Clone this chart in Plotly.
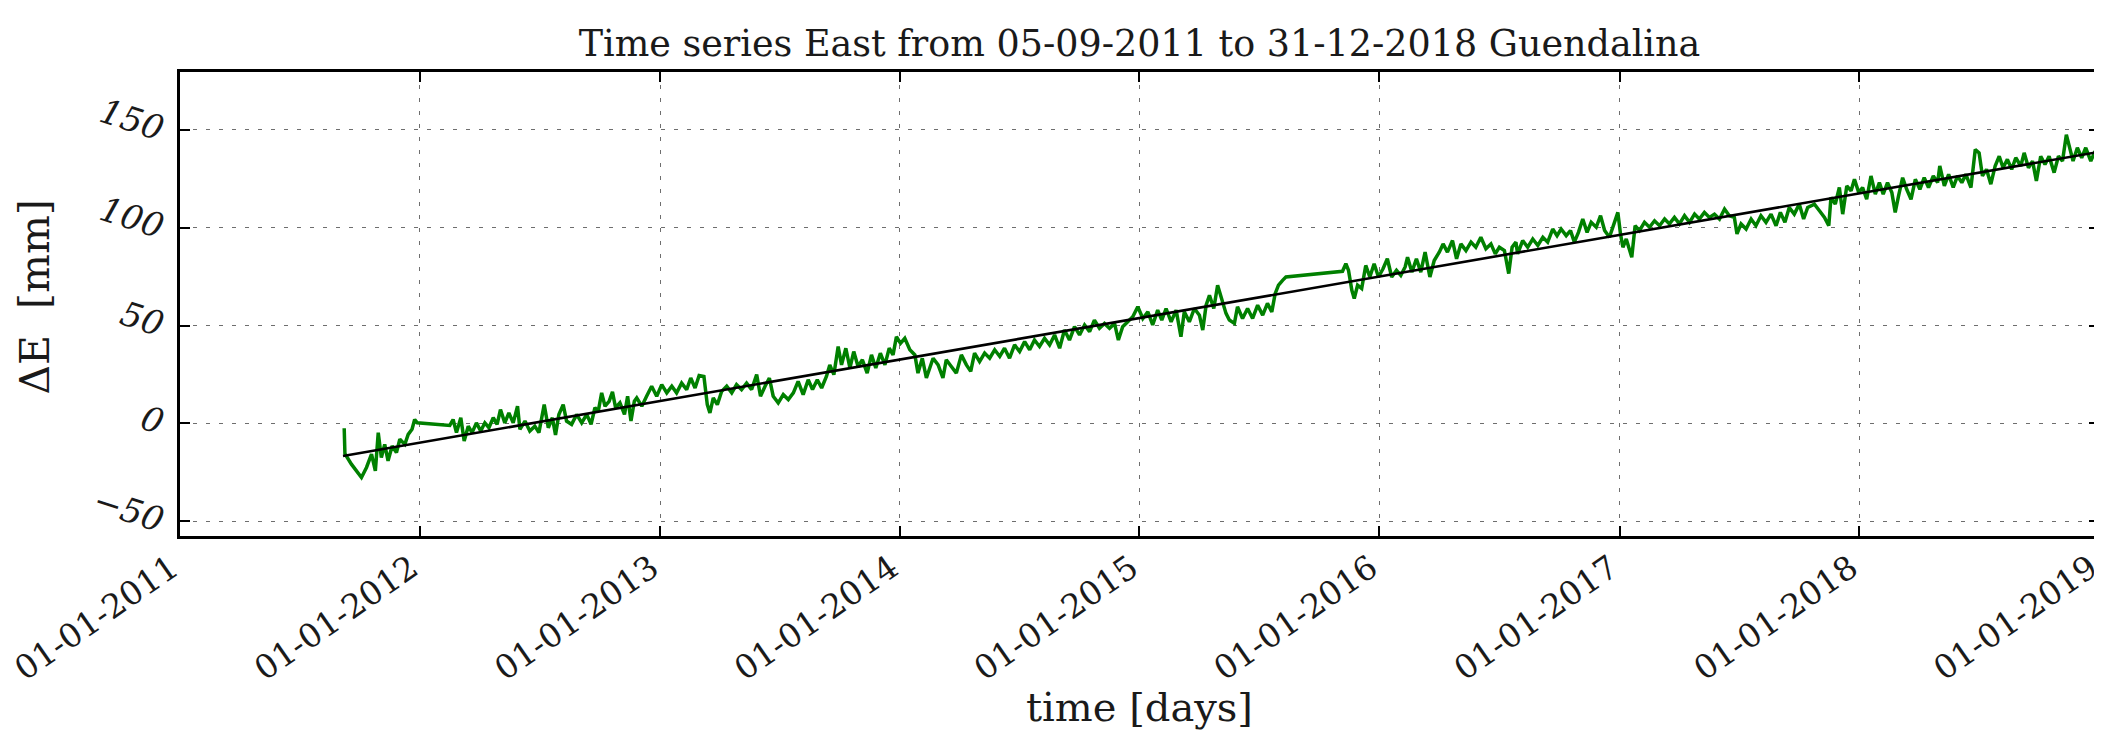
import datetime as dt
import plotly.graph_objects as go

# ---- data ----
# time in decimal years, East displacement in mm
t_year = [
    2011.685, 2011.688, 2011.715, 2011.757, 2011.778, 2011.799, 2011.815, 2011.827, 2011.840, 2011.854,
    2011.868, 2011.885, 2011.903, 2011.917, 2011.938, 2011.952, 2011.968, 2011.979, 2011.990, 2012.125,
    2012.139, 2012.153, 2012.171, 2012.185, 2012.202, 2012.218, 2012.236, 2012.254, 2012.271, 2012.288,
    2012.306, 2012.322, 2012.336, 2012.354, 2012.371, 2012.389, 2012.407, 2012.417, 2012.438, 2012.458,
    2012.479, 2012.496, 2012.518, 2012.535, 2012.552, 2012.565, 2012.579, 2012.597, 2012.611, 2012.632,
    2012.653, 2012.674, 2012.695, 2012.713, 2012.729, 2012.743, 2012.757, 2012.771, 2012.788, 2012.802,
    2012.815, 2012.833, 2012.852, 2012.865, 2012.879, 2012.893,
    2012.903, 2012.924, 2012.944, 2012.965, 2012.986, 2013.007, 2013.028, 2013.049, 2013.069, 2013.090,
    2013.111, 2013.128, 2013.146, 2013.163, 2013.183, 2013.197, 2013.208, 2013.222, 2013.239, 2013.257,
    2013.278, 2013.299, 2013.319, 2013.340, 2013.361, 2013.382, 2013.403, 2013.419, 2013.438, 2013.456,
    2013.472, 2013.493, 2013.514, 2013.535, 2013.556, 2013.576, 2013.597, 2013.618, 2013.636, 2013.656,
    2013.674, 2013.694, 2013.708, 2013.725, 2013.743, 2013.757, 2013.775, 2013.792, 2013.808, 2013.826,
    2013.844, 2013.864, 2013.882, 2013.900, 2013.919, 2013.938, 2013.956, 2013.972, 2013.986, 2014.003,
    2014.021, 2014.042, 2014.063, 2014.076, 2014.094, 2014.111,
    2014.139, 2014.160, 2014.180, 2014.194, 2014.215, 2014.236, 2014.257, 2014.278, 2014.296, 2014.312,
    2014.333, 2014.354, 2014.375, 2014.396, 2014.417, 2014.437, 2014.458, 2014.479, 2014.500, 2014.521,
    2014.542, 2014.562, 2014.583, 2014.604, 2014.625, 2014.646, 2014.667, 2014.687, 2014.708, 2014.729,
    2014.750, 2014.771, 2014.792, 2014.812, 2014.833, 2014.854, 2014.875, 2014.896, 2014.912, 2014.930,
    2014.951, 2014.972, 2014.993, 2015.014, 2015.035, 2015.055, 2015.076, 2015.093, 2015.111, 2015.132,
    2015.153, 2015.173, 2015.187, 2015.208, 2015.229, 2015.250, 2015.264, 2015.278, 2015.292, 2015.310,
    2015.326,
    2015.350, 2015.361, 2015.375, 2015.396, 2015.409, 2015.430, 2015.451, 2015.472, 2015.493, 2015.514,
    2015.534, 2015.552, 2015.566, 2015.580, 2015.597, 2015.611, 2015.847, 2015.861, 2015.872, 2015.886,
    2015.896, 2015.910, 2015.927, 2015.944, 2015.961, 2015.979, 2015.997, 2016.016, 2016.034, 2016.052,
    2016.072, 2016.090, 2016.108, 2016.118, 2016.136, 2016.155, 2016.173, 2016.191, 2016.211, 2016.229,
    2016.250, 2016.266, 2016.284, 2016.305, 2016.322, 2016.340, 2016.361, 2016.382, 2016.402, 2016.423,
    2016.444, 2016.465, 2016.483, 2016.500, 2016.521, 2016.539, 2016.553, 2016.569,
    2016.576, 2016.597, 2016.618, 2016.639, 2016.660, 2016.681, 2016.701, 2016.722, 2016.740, 2016.757,
    2016.778, 2016.796, 2016.812, 2016.829, 2016.847, 2016.865, 2016.882, 2016.903, 2016.921, 2016.938,
    2016.958, 2016.976, 2016.993, 2017.004, 2017.014, 2017.028, 2017.042, 2017.051, 2017.065, 2017.083,
    2017.104, 2017.125, 2017.146, 2017.167, 2017.188, 2017.208, 2017.229, 2017.250, 2017.271, 2017.292,
    2017.313, 2017.333, 2017.354, 2017.375, 2017.396, 2017.417, 2017.438, 2017.458, 2017.479, 2017.490,
    2017.507, 2017.528, 2017.549, 2017.569, 2017.590, 2017.611, 2017.632, 2017.653, 2017.671, 2017.690,
    2017.708, 2017.729, 2017.750, 2017.768, 2017.785,
    2017.813, 2017.834, 2017.855, 2017.873, 2017.882, 2017.900, 2017.917, 2017.931, 2017.948, 2017.966,
    2017.980, 2017.998, 2018.014, 2018.031, 2018.049, 2018.067, 2018.084, 2018.100, 2018.118, 2018.136,
    2018.150, 2018.164, 2018.181, 2018.198, 2018.216, 2018.234, 2018.253, 2018.271, 2018.289, 2018.309,
    2018.327, 2018.336, 2018.355, 2018.373, 2018.392, 2018.410, 2018.428, 2018.445, 2018.466, 2018.484,
    2018.500, 2018.514, 2018.531, 2018.549, 2018.567, 2018.584, 2018.600, 2018.618, 2018.636, 2018.653,
    2018.674, 2018.688, 2018.706, 2018.723, 2018.739, 2018.757, 2018.775, 2018.792, 2018.813, 2018.831,
    2018.848, 2018.864, 2018.878, 2018.892, 2018.910, 2018.928, 2018.945, 2018.966, 2018.984, 2018.997,
]

dE_mm = [
    -2.5, -15.5, -20.8, -27.6, -22.5, -15.7, -24.2, -4.7, -17.4, -10.7,
    -19.1, -11.5, -14.9, -8.1, -10.7, -5.6, -3.0, 2.0, 0.3, -1.0,
    2.0, -4.7, 2.9, -9.0, -1.4, -4.7, 0.3, -3.9, 0.3, -2.2,
    2.9, -0.5, 7.1, 0.3, 5.4, 0.3, 8.8, -3.0, 1.2, -3.9,
    -1.4, -4.7, 9.6, -2.2, 2.9, -5.9, 4.6, 9.6, 1.2, -0.5,
    4.6, 0.3, 4.6, -0.5, 8.0, 6.3, 15.6, 8.8, 11.3, 16.1,
    8.0, 10.5, 4.6, 13.9, 1.2, 11.3,
    13.0, 8.8, 13.9, 19.0, 13.9, 19.8, 15.6, 19.0, 15.6, 20.6,
    17.3, 23.2, 18.1, 24.5, 24.0, 9.6, 5.4, 13.0, 9.6, 16.4,
    19.0, 15.6, 19.8, 17.3, 20.6, 17.3, 24.9, 13.9, 19.0, 23.2,
    13.9, 10.5, 14.7, 12.2, 15.6, 21.5, 14.7, 22.3, 17.3, 22.3,
    18.1, 24.0, 29.9, 24.9, 39.3, 29.9, 38.4, 28.3, 36.7, 29.1,
    32.5, 25.7, 35.0, 28.3, 35.9, 29.9, 38.4, 35.0, 44.3, 40.9,
    43.5, 37.6, 35.0, 25.7, 33.3, 23.2,
    33.3, 29.9, 23.2, 32.5, 29.1, 25.7, 35.0, 29.9, 26.6, 35.9,
    31.6, 35.9, 33.3, 37.6, 34.2, 38.4, 33.3, 40.1, 36.7, 41.8,
    37.6, 42.6, 39.3, 43.5, 40.1, 45.2, 38.4, 47.7, 42.6, 49.4,
    45.2, 50.3, 46.9, 52.8, 48.6, 51.1, 48.6, 51.1, 42.6, 49.4,
    51.9, 54.5, 59.6, 53.6, 57.0, 50.3, 57.9, 52.8, 58.7, 51.9,
    57.9, 44.3, 57.0, 51.9, 58.7, 55.3, 47.7, 60.4, 65.5, 58.7,
    70.6,
    59.6, 56.2, 52.8, 51.1, 59.6, 53.6, 58.7, 53.6, 60.4, 55.3,
    61.3, 57.0, 66.3, 70.6, 73.1, 74.8, 77.7, 81.6, 78.2, 68.0,
    63.8, 70.6, 68.9, 80.7, 74.8, 81.6, 74.8, 79.0, 84.1, 74.8,
    78.2, 75.6, 79.9, 84.9, 77.3, 84.1, 77.3, 87.5, 74.8, 83.2,
    87.5, 91.7, 87.5, 93.4, 84.1, 91.7, 88.3, 92.6, 90.0, 95.1,
    89.2, 91.7, 86.6, 90.0, 88.3, 76.5, 90.0, 92.6,
    86.6, 93.4, 90.0, 94.2, 90.9, 95.1, 92.6, 99.3, 95.9, 99.3,
    95.9, 98.5, 92.6, 97.6, 104.4, 97.6, 102.7, 100.2, 106.1, 98.5,
    95.1, 101.0, 107.8, 96.8, 90.0, 94.2, 88.3, 84.9, 101.0, 98.5,
    102.7, 100.2, 103.5, 101.0, 104.4, 101.9, 105.2, 101.9, 106.1, 102.7,
    106.9, 104.4, 107.8, 105.2, 106.9, 104.4, 109.5, 106.1, 105.2, 96.8,
    101.9, 99.3, 104.4, 101.0, 106.1, 102.7, 106.9, 101.0, 107.8, 102.7,
    110.3, 106.9, 112.0, 104.4, 110.3,
    112.0, 108.6, 105.2, 101.0, 115.4, 112.0, 120.5, 106.9, 121.3, 118.8,
    124.7, 117.9, 120.5, 114.5, 126.4, 117.1, 123.0, 117.1, 123.0, 117.9,
    107.8, 116.2, 125.5, 119.6, 114.5, 124.7, 119.6, 125.5, 120.5, 126.4,
    123.0, 131.5, 121.3, 127.2, 120.5, 126.4, 123.0, 127.2, 120.5, 139.9,
    138.2, 126.4, 129.8, 122.2, 131.5, 136.5, 130.6, 134.9, 129.8, 135.7,
    131.5, 138.2, 130.6, 134.0, 123.9, 136.5, 132.3, 136.5, 128.1, 136.5,
    134.0, 147.5, 140.8, 134.0, 140.8, 135.7, 140.8, 134.0, 139.1, 134.9,
]

# linear trend (black line)
trend_t = [2011.680, 2018.997]
trend_mm = [-16.6, 138.6]

tick_years = [2011, 2012, 2013, 2014, 2015, 2016, 2017, 2018, 2019]
y_ticks = [-50, 0, 50, 100, 150]

title_text = "Time series East from 05-09-2011 to 31-12-2018 Guendalina"


def to_date(y):
    yr = int(y)
    start = dt.datetime(yr, 1, 1)
    ndays = (dt.datetime(yr + 1, 1, 1) - start).days
    return start + dt.timedelta(days=(y - yr) * ndays)


x_green = [to_date(v) for v in t_year]
x_trend = [to_date(v) for v in trend_t]
tick_dates = [dt.datetime(y, 1, 1) for y in tick_years]
# trailing no-break space keeps the rotated label just left of its tick
tick_text = [d.strftime("%d-%m-%Y") + "\u00a0" for d in tick_dates]

FONT = "DejaVu Serif"
TXT = "#1a1a1a"

# the page body has an 8px default margin: the figure is sized to fit the window
W, H = 2094, 725

fig = go.Figure()
fig.add_trace(go.Scatter(x=x_green, y=dE_mm, mode="lines",
                         line=dict(color="#008000", width=3.5), showlegend=False))
fig.add_trace(go.Scatter(x=x_trend, y=trend_mm, mode="lines",
                         line=dict(color="#000000", width=2.6), showlegend=False))

axis_common = dict(
    showgrid=True, gridcolor="#6e6e6e", gridwidth=1, griddash="4px,9px",
    showline=True, mirror="allticks", linecolor="#000000", linewidth=2.5,
    ticks="inside", ticklen=10, tickwidth=1.5, tickcolor="#000000",
    zeroline=False, automargin=False, ticklabeloverflow="allow",
)

fig.update_layout(
    template="none",
    width=W, height=H,
    margin=dict(l=172, r=3, t=64, b=197),
    paper_bgcolor="white", plot_bgcolor="white",
    font=dict(family=FONT, color=TXT),
    title=dict(text=title_text, x=0.5, xref="paper", xanchor="center",
               y=1 - 35 / H, yref="container", yanchor="middle",
               font=dict(family=FONT, size=36.5, color=TXT)),
    xaxis=dict(
        type="date",
        range=[dt.datetime(2011, 1, 1), dt.datetime(2019, 1, 1, 2)],
        tickmode="array", tickvals=tick_dates, ticktext=tick_text,
        tickangle=-35, ticklabelstandoff=-9,
        tickfont=dict(family=FONT, size=33, color=TXT),
        **axis_common,
    ),
    yaxis=dict(
        range=[-57.5, 179.5], tickmode="array", tickvals=y_ticks,
        tickangle=18, ticklabelstandoff=6,
        tickfont=dict(family=FONT, size=34, color=TXT, style="italic"),
        **axis_common,
    ),
    annotations=[
        dict(text="ΔE  [mm]", xref="paper", yref="paper", x=-0.0753, y=0.515,
             xanchor="center", yanchor="middle", textangle=-90, showarrow=False,
             font=dict(family=FONT, size=41, color=TXT)),
        dict(text="time [days]", xref="paper", yref="paper", x=0.5, y=-0.369,
             xanchor="center", yanchor="middle", showarrow=False,
             font=dict(family=FONT, size=40, color=TXT)),
    ],
)

fig.write_html("out.html")
